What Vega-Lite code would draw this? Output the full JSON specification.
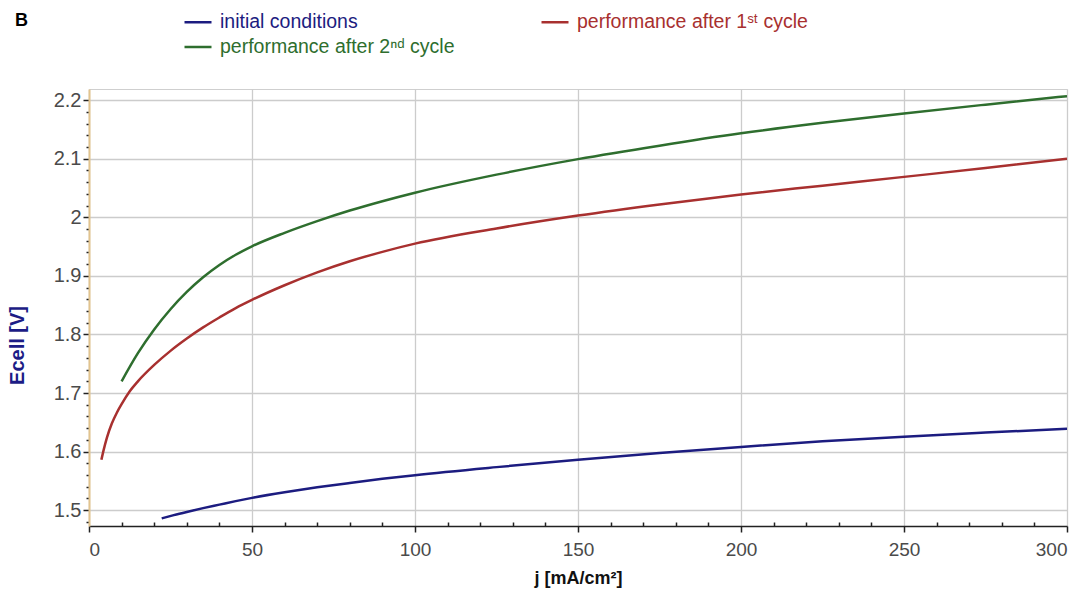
{
  "$schema": "https://vega.github.io/schema/vega-lite/v6.json",
  "autosize": "none",
  "width": 978,
  "height": 437,
  "padding": {"left": 89, "top": 89, "right": 21, "bottom": 69},
  "background": "white",
  "title": {"text": "B", "anchor": "start", "frame": "group", "dx": -74, "dy": 27, "fontSize": 18, "fontWeight": "bold", "font": "Liberation Sans", "color": "black"},
  "config": {
    "view": {"stroke": "#cfcfcf", "strokeWidth": 1},
    "font": "Liberation Sans"
  },
  "data": {
    "values": [
      {"series": "initial conditions", "j": 22.3, "E": 1.486},
      {"series": "initial conditions", "j": 26, "E": 1.4915},
      {"series": "initial conditions", "j": 30, "E": 1.497},
      {"series": "initial conditions", "j": 35, "E": 1.5035},
      {"series": "initial conditions", "j": 40, "E": 1.5095},
      {"series": "initial conditions", "j": 45, "E": 1.5155},
      {"series": "initial conditions", "j": 50, "E": 1.521},
      {"series": "initial conditions", "j": 60, "E": 1.5305},
      {"series": "initial conditions", "j": 70, "E": 1.539},
      {"series": "initial conditions", "j": 80, "E": 1.5465},
      {"series": "initial conditions", "j": 90, "E": 1.5535},
      {"series": "initial conditions", "j": 100, "E": 1.5598},
      {"series": "initial conditions", "j": 125, "E": 1.5735},
      {"series": "initial conditions", "j": 150, "E": 1.586},
      {"series": "initial conditions", "j": 175, "E": 1.5975},
      {"series": "initial conditions", "j": 200, "E": 1.608},
      {"series": "initial conditions", "j": 225, "E": 1.6175},
      {"series": "initial conditions", "j": 250, "E": 1.6255},
      {"series": "initial conditions", "j": 275, "E": 1.6325},
      {"series": "initial conditions", "j": 300, "E": 1.639},
      {"series": "performance after 1ˢᵗ cycle", "j": 3.8, "E": 1.586},
      {"series": "performance after 1ˢᵗ cycle", "j": 4.5, "E": 1.603},
      {"series": "performance after 1ˢᵗ cycle", "j": 5.5, "E": 1.624},
      {"series": "performance after 1ˢᵗ cycle", "j": 7, "E": 1.648},
      {"series": "performance after 1ˢᵗ cycle", "j": 8.5, "E": 1.666},
      {"series": "performance after 1ˢᵗ cycle", "j": 10, "E": 1.681},
      {"series": "performance after 1ˢᵗ cycle", "j": 12.5, "E": 1.703},
      {"series": "performance after 1ˢᵗ cycle", "j": 15, "E": 1.720},
      {"series": "performance after 1ˢᵗ cycle", "j": 20, "E": 1.748},
      {"series": "performance after 1ˢᵗ cycle", "j": 25, "E": 1.772},
      {"series": "performance after 1ˢᵗ cycle", "j": 30, "E": 1.793},
      {"series": "performance after 1ˢᵗ cycle", "j": 35, "E": 1.812},
      {"series": "performance after 1ˢᵗ cycle", "j": 40, "E": 1.829},
      {"series": "performance after 1ˢᵗ cycle", "j": 45, "E": 1.845},
      {"series": "performance after 1ˢᵗ cycle", "j": 50, "E": 1.859},
      {"series": "performance after 1ˢᵗ cycle", "j": 60, "E": 1.884},
      {"series": "performance after 1ˢᵗ cycle", "j": 70, "E": 1.906},
      {"series": "performance after 1ˢᵗ cycle", "j": 80, "E": 1.925},
      {"series": "performance after 1ˢᵗ cycle", "j": 90, "E": 1.941},
      {"series": "performance after 1ˢᵗ cycle", "j": 100, "E": 1.955},
      {"series": "performance after 1ˢᵗ cycle", "j": 125, "E": 1.981},
      {"series": "performance after 1ˢᵗ cycle", "j": 150, "E": 2.003},
      {"series": "performance after 1ˢᵗ cycle", "j": 175, "E": 2.022},
      {"series": "performance after 1ˢᵗ cycle", "j": 200, "E": 2.039},
      {"series": "performance after 1ˢᵗ cycle", "j": 225, "E": 2.054},
      {"series": "performance after 1ˢᵗ cycle", "j": 250, "E": 2.069},
      {"series": "performance after 1ˢᵗ cycle", "j": 275, "E": 2.084},
      {"series": "performance after 1ˢᵗ cycle", "j": 300, "E": 2.100},
      {"series": "performance after 2ⁿᵈ cycle", "j": 10, "E": 1.720},
      {"series": "performance after 2ⁿᵈ cycle", "j": 15, "E": 1.768},
      {"series": "performance after 2ⁿᵈ cycle", "j": 20, "E": 1.8085},
      {"series": "performance after 2ⁿᵈ cycle", "j": 25, "E": 1.843},
      {"series": "performance after 2ⁿᵈ cycle", "j": 30, "E": 1.8725},
      {"series": "performance after 2ⁿᵈ cycle", "j": 35, "E": 1.8975},
      {"series": "performance after 2ⁿᵈ cycle", "j": 40, "E": 1.9185},
      {"series": "performance after 2ⁿᵈ cycle", "j": 45, "E": 1.936},
      {"series": "performance after 2ⁿᵈ cycle", "j": 50, "E": 1.9505},
      {"series": "performance after 2ⁿᵈ cycle", "j": 60, "E": 1.9735},
      {"series": "performance after 2ⁿᵈ cycle", "j": 70, "E": 1.9935},
      {"series": "performance after 2ⁿᵈ cycle", "j": 80, "E": 2.0115},
      {"series": "performance after 2ⁿᵈ cycle", "j": 90, "E": 2.0275},
      {"series": "performance after 2ⁿᵈ cycle", "j": 100, "E": 2.042},
      {"series": "performance after 2ⁿᵈ cycle", "j": 125, "E": 2.0728},
      {"series": "performance after 2ⁿᵈ cycle", "j": 150, "E": 2.0993},
      {"series": "performance after 2ⁿᵈ cycle", "j": 175, "E": 2.1223},
      {"series": "performance after 2ⁿᵈ cycle", "j": 200, "E": 2.1433},
      {"series": "performance after 2ⁿᵈ cycle", "j": 225, "E": 2.1613},
      {"series": "performance after 2ⁿᵈ cycle", "j": 250, "E": 2.1773},
      {"series": "performance after 2ⁿᵈ cycle", "j": 275, "E": 2.1923},
      {"series": "performance after 2ⁿᵈ cycle", "j": 300, "E": 2.2068}
    ]
  },
  "mark": {"type": "line", "strokeWidth": 2.5, "interpolate": "monotone", "clip": true},
  "encoding": {
    "x": {
      "field": "j", "type": "quantitative",
      "scale": {"domain": [0, 300], "nice": false, "zero": false},
      "axis": {
        "title": "j [mA/cm²]",
        "titleFont": "Liberation Sans", "titleFontSize": 18, "titleFontWeight": "bold", "titleColor": "#111111", "titlePadding": 10,
        "values": [0,10,20,30,40,50,60,70,80,90,100,110,120,130,140,150,160,170,180,190,200,210,220,230,240,250,260,270,280,290,300],
        "labelExpr": "datum.value % 50 === 0 ? format(datum.value, 'd') : ''",
        "labelFont": "Liberation Sans", "labelFontSize": 19, "labelColor": "#4a4a4a", "labelPadding": 8,
        "tickSize": {"condition": {"test": "datum.value % 50 === 0", "value": 6}, "value": -4},
        "tickColor": "#222222", "tickWidth": 1.5,
        "domainColor": "#222222", "domainWidth": 1.5,
        "grid": true,
        "gridColor": "#cccccc", "gridWidth": 1.3,
        "gridOpacity": {"condition": {"test": "datum.value % 50 === 0", "value": 1}, "value": 0}
      }
    },
    "y": {
      "field": "E", "type": "quantitative",
      "scale": {"domain": [1.473, 2.219], "nice": false, "zero": false},
      "axis": {
        "title": "Ecell [V]",
        "titleFont": "Liberation Sans", "titleFontSize": 20, "titleFontWeight": "bold", "titleColor": "#1c1c86",
        "titleY": 256, "titleX": -62,
        "values": [1.48,1.5,1.52,1.54,1.56,1.58,1.6,1.62,1.64,1.66,1.68,1.7,1.72,1.74,1.76,1.78,1.8,1.82,1.84,1.86,1.88,1.9,1.92,1.94,1.96,1.98,2,2.02,2.04,2.06,2.08,2.1,2.12,2.14,2.16,2.18,2.2],
        "labelExpr": "abs(datum.value*10 - round(datum.value*10)) < 0.001 ? format(datum.value, '.1~f') : ''",
        "labelFont": "Liberation Sans", "labelFontSize": 20, "labelColor": "#4a4a4a", "labelPadding": 2,
        "tickSize": {"condition": {"test": "abs(datum.value*10 - round(datum.value*10)) < 0.001", "value": 6}, "value": 3},
        "tickColor": "#222222", "tickWidth": 1.5,
        "domainColor": "#e2c48e", "domainWidth": 2,
        "grid": true,
        "gridColor": "#cccccc", "gridWidth": 1.3,
        "gridOpacity": {"condition": {"test": "abs(datum.value*10 - round(datum.value*10)) < 0.001", "value": 1}, "value": 0}
      }
    },
    "color": {
      "field": "series", "type": "nominal",
      "scale": {
        "domain": ["initial conditions", "performance after 1ˢᵗ cycle", "performance after 2ⁿᵈ cycle"],
        "range": ["#1c1c80", "#a8302f", "#2e6e2e"]
      },
      "legend": {
        "title": null,
        "orient": "none",
        "legendX": 94,
        "legendY": -82,
        "direction": "horizontal",
        "columns": 2,
        "columnPadding": 81,
        "rowPadding": -2,
        "symbolType": "stroke",
        "symbolSize": 729,
        "symbolStrokeWidth": 2.5,
        "labelOffset": 7,
        "labelFont": "Liberation Sans",
        "labelFontSize": 19.5,
        "labelLimit": 400,
        "encode": {
          "labels": {"update": {"fill": {"scale": "color", "field": "value"}}}
        }
      }
    }
  }
}
